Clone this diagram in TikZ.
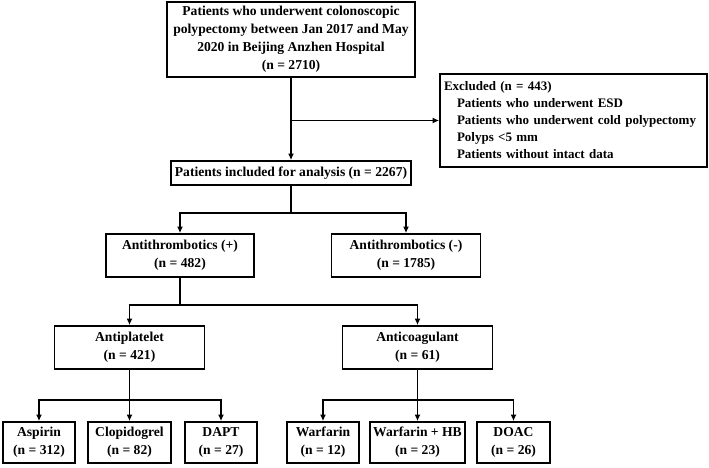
\documentclass[tikz,border=0pt]{standalone}
\usepackage{fontspec}
\setmainfont{Liberation Serif}
\usetikzlibrary{arrows.meta}

\begin{document}
\begin{tikzpicture}[x=1pt,y=-1pt,
        box/.style={draw,line width=1.8pt,align=center,inner sep=1pt,
            font=\bfseries\fontsize{13.6}{18}\selectfont},
        arr/.style={line width=1.8pt,-{Latex[length=6.5pt,width=6pt]}}]
        \useasboundingbox (0,0) rectangle (709,467);

        % first two levels
        \node[box,minimum width=248pt,minimum height=75pt] (all) at (291,39.5)
            {Patients who underwent colonoscopic\\polypectomy between Jan 2017 and May\\2020 in Beijing Anzhen Hospital\\(n = 2710)};
        \node[box,align=left,text width=259pt,inner xsep=4pt,minimum height=93pt,
            font=\bfseries\fontsize{13}{17}\selectfont] (excl) at (573.5,120.5)
            {Excluded (n = 443)\\
             \hspace*{13pt}Patients who underwent ESD\\
             \hspace*{13pt}Patients who underwent cold polypectomy\\
             \hspace*{13pt}Polyps <5 mm\\
             \hspace*{13pt}Patients without intact data};
        \node[box,minimum width=240pt,minimum height=24pt] (incl) at (291,173)
            {Patients included for analysis (n = 2267)};

        \node[box,minimum width=148pt,minimum height=43pt] (pos) at (180,255.5)
            {Antithrombotics (+)\\(n = 482)};
        \node[box,minimum width=149pt,minimum height=43pt] (neg) at (406,255.5)
            {Antithrombotics (-)\\(n = 1785)};

        \node[box,minimum width=150pt,minimum height=43pt] (aplt) at (129.5,347.5)
            {Antiplatelet\\(n = 421)};
        \node[box,minimum width=150pt,minimum height=43pt] (acoag) at (417.5,347.5)
            {Anticoagulant\\(n = 61)};

        % drugs
        \node[box,minimum width=72pt,minimum height=41pt] (asp) at (39,442.5)
            {Aspirin\\(n = 312)};
        \node[box,minimum width=83pt,minimum height=41pt] (clop) at (129.5,442.5)
            {Clopidogrel\\(n = 82)};
        \node[box,minimum width=72pt,minimum height=41pt] (dapt) at (221,442.5)
            {DAPT\\(n = 27)};
        \node[box,minimum width=72pt,minimum height=41pt] (warf) at (323,442.5)
            {Warfarin\\(n = 12)};
        \node[box,minimum width=95pt,minimum height=41pt] (warfhb) at (417.5,442.5)
            {Warfarin + HB\\(n = 23)};
        \node[box,minimum width=73pt,minimum height=41pt] (doac) at (513.5,442.5)
            {DOAC\\(n = 26)};

        \draw[arr] (all.south) -- (incl.north);
        \draw[arr] (all.south |- excl.west) -- (excl.west);

        \draw[arr] (incl.south) -- ++(0,27) -| (pos.north);
        \draw[arr] (incl.south) -- ++(0,27) -| (neg.north);

        \draw[arr] (pos.south) -- ++(0,27) -| (aplt.north);
        \draw[arr] (pos.south) -- ++(0,27) -| (acoag.north);

        \draw[arr] (aplt.south) -- ++(0,30) -| (asp.north);
        \draw[arr] (aplt.south) -- (clop.north);
        \draw[arr] (aplt.south) -- ++(0,30) -| (dapt.north);

        \draw[arr] (acoag.south) -- ++(0,30) -| (warf.north);
        \draw[arr] (acoag.south) -- (warfhb.north);
        \draw[arr] (acoag.south) -- ++(0,30) -| (doac.north);
    \end{tikzpicture}
\end{document}
